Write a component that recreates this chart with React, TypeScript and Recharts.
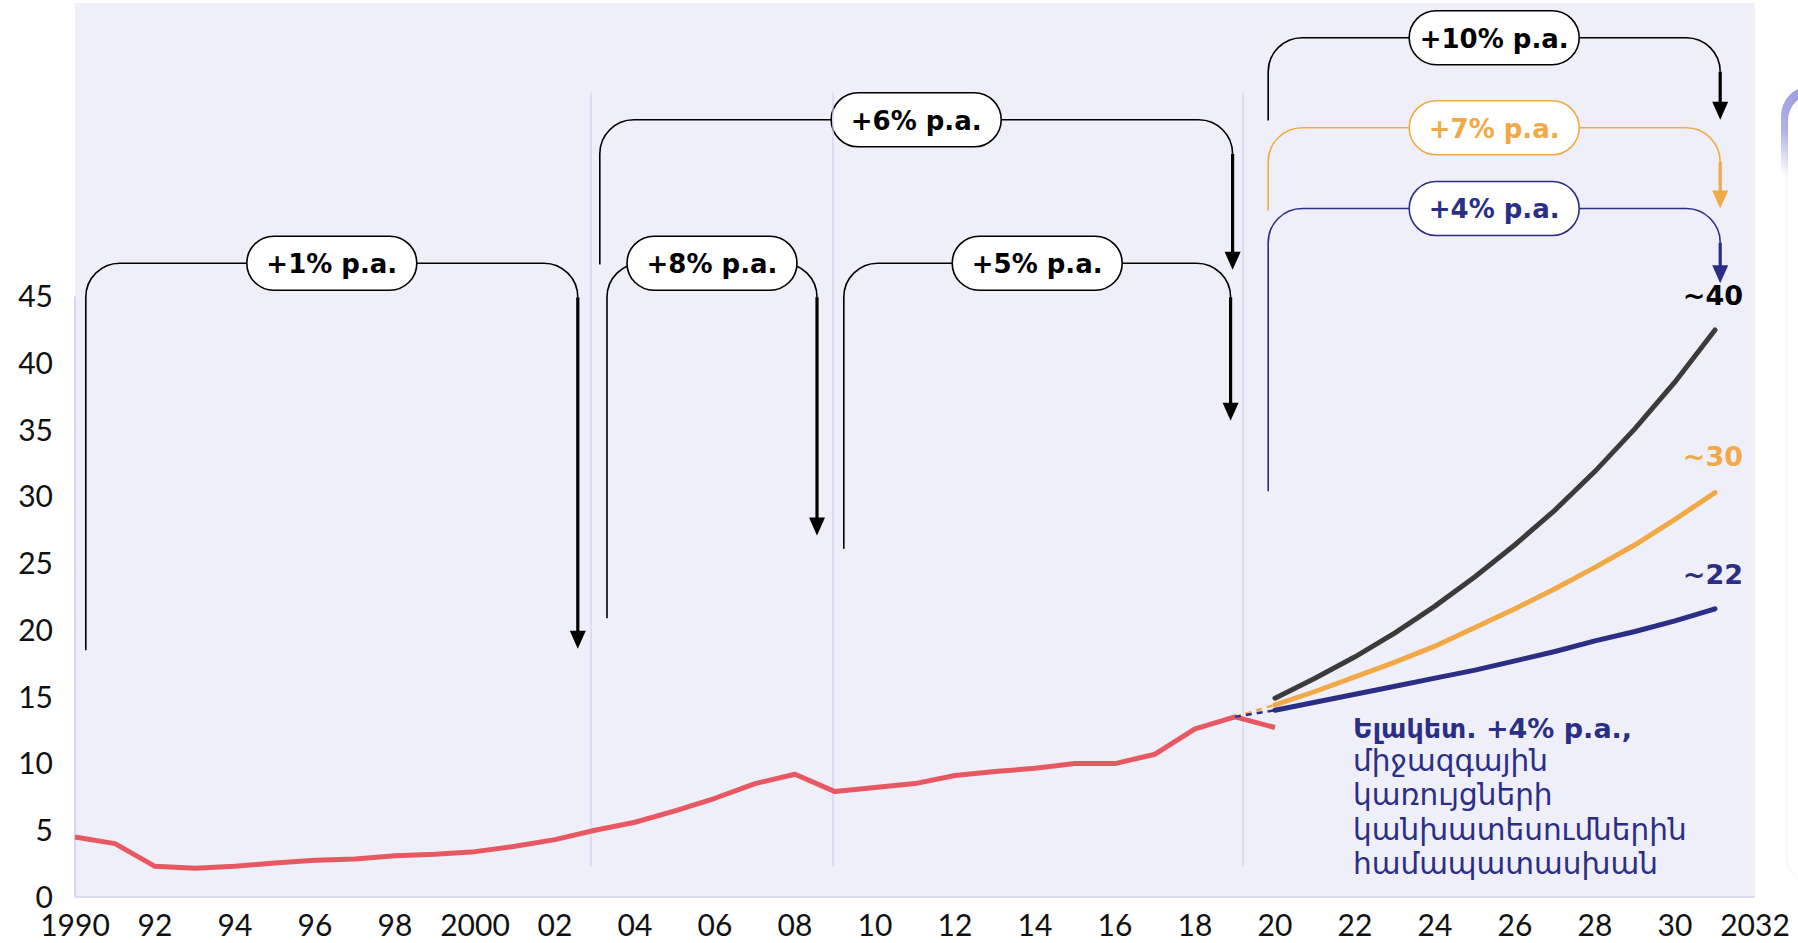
import React from "react";
import {
  CartesianGrid,
  Line,
  LineChart,
  ReferenceArea,
  ReferenceDot,
  ReferenceLine,
  XAxis,
  YAxis,
} from "recharts";

// historical series 1990-2020
const histYears = [
  1990, 1991, 1992, 1993, 1994, 1995, 1996, 1997, 1998, 1999, 2000, 2001, 2002, 2003, 2004, 2005,
  2006, 2007, 2008, 2009, 2010, 2011, 2012, 2013, 2014, 2015, 2016, 2017, 2018, 2019, 2020,
];
const histValues = [
  4.5, 4.0, 2.3, 2.15, 2.3, 2.55, 2.75, 2.85, 3.1, 3.2, 3.4, 3.8, 4.3, 5.0, 5.6, 6.45, 7.4, 8.5,
  9.2, 7.9, 8.2, 8.5, 9.1, 9.4, 9.65, 10.0, 10.0, 10.7, 12.6, 13.5, 12.7,
];

// projections 2020-2031
const projYears = [2020, 2021, 2022, 2023, 2024, 2025, 2026, 2027, 2028, 2029, 2030, 2031];
const high10 = [14.9, 16.4, 18.0, 19.8, 21.8, 24.0, 26.4, 29.0, 31.9, 35.1, 38.6, 42.5];
const mid7 = [14.4, 15.4, 16.5, 17.6, 18.8, 20.2, 21.6, 23.1, 24.7, 26.4, 28.3, 30.3];
const base4 = [14.0, 14.6, 15.2, 15.8, 16.4, 17.0, 17.7, 18.4, 19.2, 19.9, 20.7, 21.6];

// dashed bridge from the 2019 peak to the projection start
const bridgeYears = [2019, 2020];
const bridgeMid = [13.5, 14.4];
const bridgeBase = [13.5, 14.0];

const xTicks = [
  1990, 1992, 1994, 1996, 1998, 2000, 2002, 2004, 2006, 2008, 2010, 2012, 2014, 2016, 2018, 2020,
  2022, 2024, 2026, 2028, 2030, 2032,
];
const xTickLabels = [
  "1990", "92", "94", "96", "98", "2000", "02", "04", "06", "08", "10", "12", "14", "16", "18",
  "20", "22", "24", "26", "28", "30", "2032",
];
const yTicks = [0, 5, 10, 15, 20, 25, 30, 35, 40, 45];

const separators = [2002.9, 2008.95, 2019.2];

// growth brackets: label, from-year, to-year, top level, left end, arrow end, colour
const brackets = [
  { label: "+1% p.a.", from: 1990.27, to: 2002.57, top: 47.5, leftEnd: 18.5, arrowEnd: 18.6, color: "#000000" },
  { label: "+6% p.a.", from: 2003.12, to: 2018.94, top: 58.25, leftEnd: 47.4, arrowEnd: 47.0, color: "#000000" },
  { label: "+8% p.a.", from: 2003.3, to: 2008.55, top: 47.5, leftEnd: 20.9, arrowEnd: 27.1, color: "#000000" },
  { label: "+5% p.a.", from: 2009.22, to: 2018.89, top: 47.5, leftEnd: 26.1, arrowEnd: 35.7, color: "#000000" },
  { label: "+10% p.a.", from: 2019.83, to: 2031.13, top: 64.4, leftEnd: 58.2, arrowEnd: 58.25, color: "#000000" },
  { label: "+7% p.a.", from: 2019.83, to: 2031.13, top: 57.65, leftEnd: 51.45, arrowEnd: 51.6, color: "#F0A945" },
  { label: "+4% p.a.", from: 2019.83, to: 2031.13, top: 51.6, leftEnd: 30.4, arrowEnd: 46.0, color: "#2B2E85" },
];

const endLabels = [
  { text: "~40", year: 2031.7, value: 45.1, color: "#000000" },
  { text: "~30", year: 2031.7, value: 33.0, color: "#F0A945" },
  { text: "~22", year: 2031.7, value: 24.2, color: "#2B2E85" },
];

const noteHead = "Ելակետ. +4% p.a.,";
const noteLines = ["միջազգային", "կառույցների", "կանխատեսումներին", "համապատասխան"];

const RED = "#E85862";
const BLACK = "#3B3B3B";
const ORANGE = "#F0A945";
const NAVY = "#2B2E85";

const rows = (() => {
  const map = new Map<number, any>();
  const put = (yr: number, key: string, v: number) => {
    const r = map.get(yr) || { year: yr };
    r[key] = v;
    map.set(yr, r);
  };
  histYears.forEach((yr, i) => put(yr, "hist", histValues[i]));
  projYears.forEach((yr, i) => {
    put(yr, "high", high10[i]);
    put(yr, "mid", mid7[i]);
    put(yr, "base", base4[i]);
  });
  bridgeYears.forEach((yr, i) => {
    put(yr, "bMid", bridgeMid[i]);
    put(yr, "bBase", bridgeBase[i]);
  });
  return Array.from(map.values()).sort((a, b) => a.year - b.year);
})();

const bracketShape = (b: (typeof brackets)[number]) => (p: any) => {
  const { x, y, width, height } = p;
  const lo = Math.min(b.leftEnd, b.arrowEnd);
  const ppu = height / (b.top - lo);
  const leftB = y + (b.top - b.leftEnd) * ppu;
  const rightB = y + (b.top - b.arrowEnd) * ppu;
  const r = 34;
  const xr = x + width;
  const cx = x + width / 2;
  const ah = 18;
  const aw = 8;
  return (
    <g>
      <path
        d={`M${x},${leftB} L${x},${y + r} A${r},${r} 0 0 1 ${x + r},${y} L${xr - r},${y} A${r},${r} 0 0 1 ${xr},${y + r}`}
        fill="none"
        stroke={b.color}
        strokeWidth={1.6}
      />
      <line x1={xr} y1={y + r} x2={xr} y2={rightB - ah + 2} stroke={b.color} strokeWidth={3.2} />
      <polygon points={`${xr - aw},${rightB - ah} ${xr + aw},${rightB - ah} ${xr},${rightB}`} fill={b.color} />
      <rect x={cx - 85} y={y - 27} width={170} height={54} rx={27} fill="#ffffff" stroke={b.color} strokeWidth={1.6} />
      <text
        x={cx}
        y={y + 1}
        textAnchor="middle"
        dominantBaseline="central"
        fontFamily="DejaVu Sans"
        fontWeight={700}
        fontSize={26}
        fill={b.color}
      >
        {b.label}
      </text>
    </g>
  );
};

export default function App() {
  return (
    <div style={{ position: "absolute", left: 0, top: 0, width: 1798, height: 943, background: "#ffffff", overflow: "hidden" }}>
      <LineChart width={1798} height={943} data={rows} margin={{ top: 3, right: 43, bottom: 0, left: 0 }}>
        <CartesianGrid horizontal={false} vertical={false} fill="#EFEFF9" />
        <XAxis
          type="number"
          dataKey="year"
          domain={[1990, 2032]}
          ticks={xTicks}
          tickFormatter={(v: number) => xTickLabels[xTicks.indexOf(v)]}
          height={46}
          tickSize={0}
          tickMargin={18}
          axisLine={{ stroke: "#D9DBEE", strokeWidth: 2 }}
          tick={{ fontFamily: "Lato", fontSize: 30, fill: "#111111" }}
          interval={0}
        />
        <YAxis
          type="number"
          domain={[0, 67]}
          ticks={yTicks}
          width={75}
          tickSize={0}
          tickMargin={22}
          axisLine={false}
          tick={{ fontFamily: "Lato", fontSize: 30, fill: "#111111" }}
          interval={0}
        />
        <ReferenceLine segment={[{ x: 1990, y: 0 }, { x: 1990, y: 45 }]} stroke="#D5D7EE" strokeWidth={2} />
        {separators.map((s) => (
          <ReferenceLine key={s} segment={[{ x: s, y: 2.25 }, { x: s, y: 60.3 }]} stroke="#CFD0F0" strokeWidth={1.2} />
        ))}
        {brackets.map((b) => (
          <ReferenceArea
            key={b.label}
            x1={b.from}
            x2={b.to}
            y1={Math.min(b.leftEnd, b.arrowEnd)}
            y2={b.top}
            shape={bracketShape(b)}
          />
        ))}
        {endLabels.map((l) => (
          <ReferenceDot
            key={l.text}
            x={l.year}
            y={l.value}
            r={0}
            shape={(p: any) => (
              <text
                x={p.cx}
                y={p.cy}
                textAnchor="end"
                dominantBaseline="central"
                fontFamily="DejaVu Sans"
                fontWeight={700}
                fontSize={27}
                fill={l.color}
              >
                {l.text}
              </text>
            )}
          />
        ))}
        <ReferenceDot
          x={2021.95}
          y={12.7}
          r={0}
          shape={(p: any) => (
            <text x={p.cx} y={p.cy} dominantBaseline="central" fontFamily="DejaVu Sans" fill={NAVY}>
              <tspan fontWeight={700} fontSize={27}>{noteHead}</tspan>
              {noteLines.map((t, i) => (
                <tspan key={t} x={p.cx} dy={i === 0 ? 33 : 34.5} fontSize={29.5}>
                  {t}
                </tspan>
              ))}
            </text>
          )}
        />
        <Line dataKey="hist" stroke={RED} strokeWidth={5} dot={false} isAnimationActive={false} strokeLinejoin="round" />
        <Line dataKey="bMid" stroke={ORANGE} strokeWidth={2.5} strokeDasharray="6 5" dot={false} isAnimationActive={false} />
        <Line dataKey="bBase" stroke={NAVY} strokeWidth={2.5} strokeDasharray="6 5" dot={false} isAnimationActive={false} />
        <Line dataKey="high" stroke={BLACK} strokeWidth={5} dot={false} isAnimationActive={false} strokeLinecap="round" />
        <Line dataKey="mid" stroke={ORANGE} strokeWidth={5} dot={false} isAnimationActive={false} strokeLinecap="round" />
        <Line dataKey="base" stroke={NAVY} strokeWidth={5} dot={false} isAnimationActive={false} strokeLinecap="round" />
      </LineChart>
      <div
        style={{
          position: "absolute",
          left: 1781,
          top: 86,
          width: 60,
          height: 797,
          borderRadius: 34,
          background: "linear-gradient(to bottom, #9C9DE0 0px, #B4B5EA 45px, rgba(255,255,255,0) 90px)",
        }}
      >
        <div
          style={{
            position: "absolute",
            left: 7,
            top: 8,
            right: 0,
            bottom: 0,
            borderRadius: 30,
            background: "#ffffff",
            boxShadow: "0 0 5px rgba(0,0,0,0.08)",
          }}
        />
      </div>
    </div>
  );
}
